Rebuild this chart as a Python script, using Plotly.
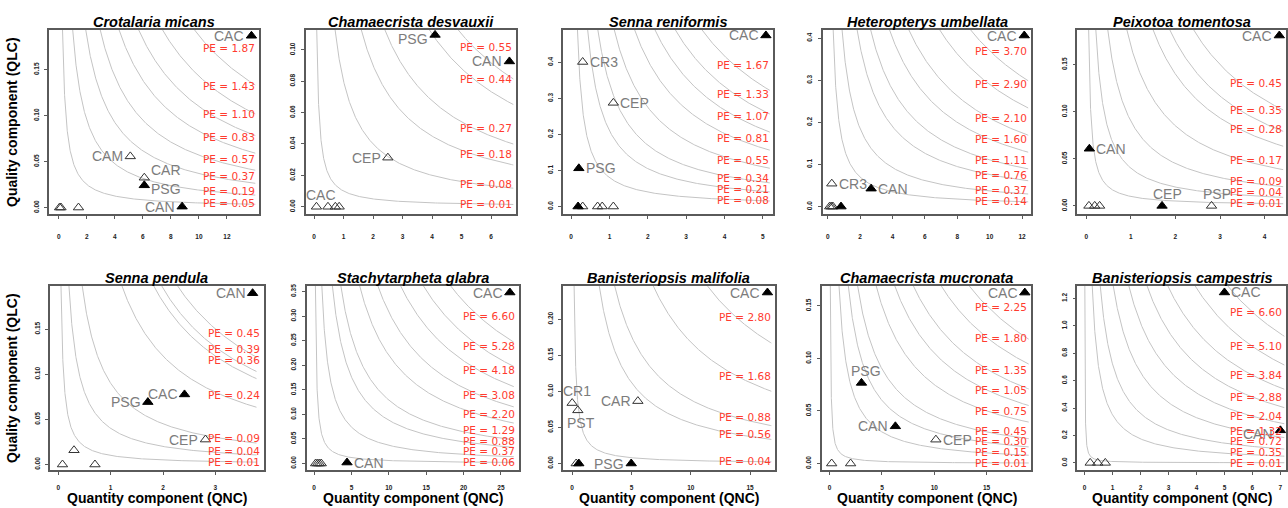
import numpy as np
import plotly.graph_objects as go

# ---------------- data ----------------
species = ["Crotalaria micans", "Chamaecrista desvauxii", "Senna reniformis",
           "Heteropterys umbellata", "Peixotoa tomentosa", "Senna pendula",
           "Stachytarpheta glabra", "Banisteriopsis malifolia",
           "Chamaecrista mucronata", "Banisteriopsis campestris"]

# isocline levels of pollination effectiveness (PE = QNC * QLC)
pe_values = [
    [1.87, 1.43, 1.10, 0.83, 0.57, 0.37, 0.19, 0.05],
    [0.55, 0.44, 0.27, 0.18, 0.08, 0.01],
    [1.67, 1.33, 1.07, 0.81, 0.55, 0.34, 0.21, 0.08],
    [3.70, 2.90, 2.10, 1.60, 1.11, 0.76, 0.37, 0.14],
    [0.45, 0.35, 0.28, 0.17, 0.09, 0.04, 0.01],
    [0.45, 0.39, 0.36, 0.24, 0.09, 0.04, 0.01],
    [6.60, 5.28, 4.18, 3.08, 2.20, 1.29, 0.88, 0.37, 0.06],
    [2.80, 1.68, 0.88, 0.56, 0.04],
    [2.25, 1.80, 1.35, 1.05, 0.75, 0.45, 0.30, 0.15, 0.01],
    [6.60, 5.10, 3.84, 2.88, 2.04, 1.32, 0.72, 0.35, 0.01],
]

# visitors: quantity component, quality component, filled (effective) flag, label
qnc = [
    [13.75, 5.1, 6.1, 6.1, 8.8, 0.05, 0.15, 1.4],
    [4.1, 6.62, 2.5, 0.08, 0.47, 0.72, 0.85],
    [5.08, 0.30, 1.10, 0.20, 0.18, 0.30, 0.69, 0.81, 1.10],
    [12.14, 0.25, 2.68, 0.12, 0.22, 0.32, 0.82],
    [4.33, 0.07, 1.70, 2.81, 0.06, 0.19, 0.30],
    [3.71, 2.41, 1.71, 2.81, 0.30, 0.08, 0.70],
    [26.2, 4.4, 0.2, 0.45, 0.7, 0.95],
    [16.46, 0.0, 0.48, 5.54, 4.98, 0.34, 0.56],
    [18.65, 3.04, 6.28, 10.15, 0.19, 2.0],
    [5.0, 7.0, 0.2, 0.47, 0.74],
]
qlc = [
    [0.187, 0.0557, 0.0325, 0.0242, 0.001, 0.0, 0.0, 0.0],
    [0.1095, 0.0926, 0.0313, 0.0, 0.0, 0.0, 0.0],
    [0.4746, 0.401, 0.2876, 0.106, 0.0, 0.0, 0.0, 0.0, 0.0],
    [0.4063, 0.0544, 0.0426, 0.0, 0.0, 0.0, 0.0],
    [0.181, 0.0607, 0.0, 0.0, 0.0, 0.0, 0.0],
    [0.1897, 0.0776, 0.0691, 0.0276, 0.0158, 0.0, 0.0],
    [0.348, 0.002, 0.0, 0.0, 0.0, 0.0],
    [0.2368, 0.0837, 0.0736, 0.0864, 0.0, 0.0, 0.0],
    [0.1626, 0.0767, 0.0354, 0.0227, 0.0, 0.0],
    [1.244, 0.2376, 0.0, 0.0, 0.0],
]
filled = [
    [1, 0, 0, 1, 1, 0, 0, 0],
    [1, 1, 0, 0, 0, 0, 0],
    [1, 0, 0, 1, 1, 0, 0, 0, 0],
    [1, 0, 1, 0, 0, 0, 1],
    [1, 1, 1, 0, 0, 0, 0],
    [1, 1, 1, 0, 0, 0, 0],
    [1, 1, 0, 0, 0, 0],
    [1, 0, 0, 0, 1, 0, 1],
    [1, 1, 1, 0, 0, 0],
    [1, 1, 0, 0, 0],
]
point_labels = [
    ["CAC", "CAM", "CAR", "PSG", "CAN", "", "", ""],
    ["PSG", "CAN", "CEP", "CAC", "", "", ""],
    ["CAC", "CR3", "CEP", "PSG", "", "", "", "", ""],
    ["CAC", "CR3", "CAN", "", "", "", ""],
    ["CAC", "CAN", "CEP", "PSP", "", "", ""],
    ["CAN", "CAC", "PSG", "CEP", "", "", ""],
    ["CAC", "CAN", "", "", "", ""],
    ["CAC", "CR1", "PST", "CAR", "PSG", "", ""],
    ["CAC", "PSG", "CAN", "CEP", "", ""],
    ["CAC", "CAN", "", "", ""],
]

# axis tick values (labels)
x_ticks = [
    [0, 2, 4, 6, 8, 10, 12], [0, 1, 2, 3, 4, 5, 6], [0, 1, 2, 3, 4, 5],
    [0, 2, 4, 6, 8, 10, 12], [0, 1, 2, 3, 4], [0, 1, 2, 3], [0, 5, 10, 15, 20, 25],
    [0, 5, 10, 15], [0, 5, 10, 15], [0, 1, 2, 3, 4, 5, 6, 7],
]
y_ticks = [
    [0, 0.05, 0.10, 0.15], [0, 0.02, 0.04, 0.06, 0.08, 0.10], [0, 0.1, 0.2, 0.3, 0.4],
    [0, 0.1, 0.2, 0.3, 0.4], [0, 0.05, 0.10, 0.15], [0, 0.05, 0.10, 0.15],
    [0, 0.05, 0.10, 0.15, 0.20, 0.25, 0.30, 0.35], [0, 0.05, 0.10, 0.15, 0.20],
    [0, 0.05, 0.10, 0.15], [0, 0.2, 0.4, 0.6, 0.8, 1.0, 1.2],
]
y_decimals = [2, 2, 1, 1, 2, 2, 2, 2, 2, 1]

# ---------------- layout / style settings ----------------
label_pos = [
    ["l", "l", "ru", "rd", "l", "", "", ""],
    ["lb", "l", "l", "t", "", "", ""],
    ["l", "r", "r", "r", "", "", "", "", ""],
    ["l", "r", "r", "", "", "", ""],
    ["l", "r", "t", "t", "", "", ""],
    ["l", "l", "l", "l", "", "", ""],
    ["l", "r", "", "", "", ""],
    ["l", "t", "b", "l", "l", "", ""],
    ["l", "t", "l", "r", "", ""],
    ["r", "lb", "", "", ""],
]
# panel boxes in pixels: left, right, top, bottom
panel_px = [
    (49, 259, 28, 213), (306, 517, 28, 213), (564, 774, 28, 213),
    (824, 1033, 28, 213), (1079, 1289, 28, 213),
    (50, 264, 285, 470), (307, 520, 285, 470), (564, 776, 285, 470),
    (823, 1033, 285, 470), (1079, 1289, 285, 470),
]
x_ranges = [[-0.71, 14.26], [-0.29, 6.85], [-0.21, 5.26], [-0.31, 12.58], [-0.2, 4.48],
            [-0.16, 3.92], [-1.02, 27.45], [-0.76, 17.08], [-0.76, 19.28], [-0.26, 7.2]]
y_ranges = [[-0.0072, 0.1934], [-0.0047, 0.1127], [-0.0212, 0.490], [-0.018, 0.4197],
            [-0.0088, 0.187], [-0.00625, 0.1978], [-0.0135, 0.3615], [-0.0092, 0.246],
            [-0.0063, 0.169], [-0.053, 1.292]]
pe_label_ref_x = [10.8, 5.4, 4.25, 10.0, 3.45, 3.1, 22.0, 13.8, 15.1, 6.0]
x_label_standoff = [12, 12, 12, 12, 12, 7, 7, 7, 7, 7]

W, H = 1288, 508
CURVE_COLOR = "#c4c4c4"
FRAME_COLOR = "#5a5a5a"
PE_COLOR = "#ff3b2f"
LABEL_COLOR = "#7c7c7c"

fig = go.Figure()
annotations = []
layout_axes = {}

pos_map = {
    "l": dict(xanchor="right", yanchor="middle", xshift=-5, yshift=0),
    "lb": dict(xanchor="right", yanchor="middle", xshift=-5, yshift=-4),
    "r": dict(xanchor="left", yanchor="middle", xshift=5, yshift=0),
    "ru": dict(xanchor="left", yanchor="middle", xshift=5, yshift=8),
    "rd": dict(xanchor="left", yanchor="middle", xshift=5, yshift=-4),
    "t": dict(xanchor="center", yanchor="bottom", xshift=5, yshift=2),
    "b": dict(xanchor="center", yanchor="top", xshift=3, yshift=-3),
}

for i in range(10):
    sfx = "" if i == 0 else str(i + 1)
    xa, ya = "x" + sfx, "y" + sfx
    left, right, top, bottom = panel_px[i]
    y0, y1 = y_ranges[i]
    x0, x1 = x_ranges[i]
    tickfont = dict(family="Liberation Sans", size=6.5, color="#222", weight="bold")
    layout_axes["xaxis" + sfx] = dict(
        domain=[left / W, min(right / W, 1.0)], range=x_ranges[i], anchor=ya,
        tickmode="array", tickvals=x_ticks[i], ticktext=[str(v) for v in x_ticks[i]],
        ticks="outside", ticklen=3, tickwidth=1,
        tickcolor=FRAME_COLOR, showline=True, mirror=True, linecolor=FRAME_COLOR,
        linewidth=1.5, showgrid=False, zeroline=False, tickfont=tickfont,
        ticklabelstandoff=x_label_standoff[i],
    )
    layout_axes["yaxis" + sfx] = dict(
        domain=[1 - bottom / H, 1 - top / H], range=y_ranges[i], anchor=xa,
        tickmode="array", tickvals=y_ticks[i],
        ticktext=[f"{v:.{y_decimals[i]}f}" for v in y_ticks[i]], tickangle=-90,
        ticks="outside", ticklen=3, tickwidth=1, tickcolor=FRAME_COLOR,
        showline=True, mirror=True, linecolor=FRAME_COLOR, linewidth=1.5,
        showgrid=False, zeroline=False, tickfont=tickfont, ticklabelstandoff=3,
    )

    # isoclines
    x_end = max(qnc[i]) * 1.02
    cx, cy = [], []
    for pe in pe_values[i]:
        xs = np.geomspace(pe / y1 * 0.98, x_end, 300)
        cx += list(xs) + [None]
        cy += list(pe / xs) + [None]
    fig.add_trace(go.Scatter(x=cx, y=cy, mode="lines", xaxis=xa, yaxis=ya,
                             line=dict(color=CURVE_COLOR, width=1),
                             hoverinfo="skip", showlegend=False))

    # points
    for flag, sym, col in [(0, "triangle-up-open", "#333333"), (1, "triangle-up", "#000000")]:
        px_ = [qnc[i][k] for k in range(len(qnc[i])) if filled[i][k] == flag]
        py_ = [qlc[i][k] for k in range(len(qnc[i])) if filled[i][k] == flag]
        fig.add_trace(go.Scatter(x=px_, y=py_, mode="markers", xaxis=xa, yaxis=ya,
                                 marker=dict(symbol=sym, size=9, color=col,
                                             line=dict(width=1, color=col)),
                                 showlegend=False, cliponaxis=False))

    # point labels
    for k, lab in enumerate(point_labels[i]):
        if not lab:
            continue
        p = pos_map[label_pos[i][k]]
        annotations.append(dict(x=qnc[i][k], y=qlc[i][k], xref=xa, yref=ya, text=lab,
                                showarrow=False,
                                font=dict(family="Liberation Sans Narrow, Arial Narrow, Liberation Sans",
                                          size=14, color=LABEL_COLOR), **p))

    # PE labels (spread so they do not overlap)
    order = sorted(pe_values[i])
    gap = 0.058 * (y1 - y0)
    prev = None
    for pe in order:
        yl = pe / pe_label_ref_x[i]
        if prev is not None and yl < prev + gap:
            yl = prev + gap
        prev = yl
        annotations.append(dict(x=x1, y=yl, xref=xa, yref=ya, text=f"PE = {pe:.2f}",
                                showarrow=False, xanchor="right", yanchor="middle", xshift=-2,
                                font=dict(family="DejaVu Sans", size=10.5, color=PE_COLOR)))

    # panel title
    annotations.append(dict(x=(left + right) / 2 / W, y=1 - (top - 8) / H, xref="paper",
                            yref="paper", text=species[i], showarrow=False,
                            xanchor="center", yanchor="middle",
                            font=dict(family="Liberation Sans", size=14.5, color="#000",
                                      weight="bold", style="italic")))

# axis titles
for top, bottom in [(28, 213), (285, 470)]:
    annotations.append(dict(x=12 / W, y=1 - (top + bottom) / 2 / H, xref="paper", yref="paper",
                            text="Quality component (QLC)", textangle=-90, showarrow=False,
                            xanchor="center", yanchor="middle",
                            font=dict(family="Liberation Sans", size=14, color="#000", weight="bold")))
for i in range(5, 10):
    left, right, top, bottom = panel_px[i]
    annotations.append(dict(x=(left + right) / 2 / W, y=1 - 498 / H, xref="paper", yref="paper",
                            text="Quantity component (QNC)", showarrow=False,
                            xanchor="center", yanchor="middle",
                            font=dict(family="Liberation Sans", size=14, color="#000", weight="bold")))

fig.update_layout(width=W, height=H, margin=dict(l=0, r=0, t=0, b=0),
                  paper_bgcolor="white", plot_bgcolor="white",
                  annotations=annotations, **layout_axes)
fig.write_html("out.html", config={"displayModeBar": False},
               post_script="document.body.style.margin='0px';document.body.style.overflow='hidden';")
